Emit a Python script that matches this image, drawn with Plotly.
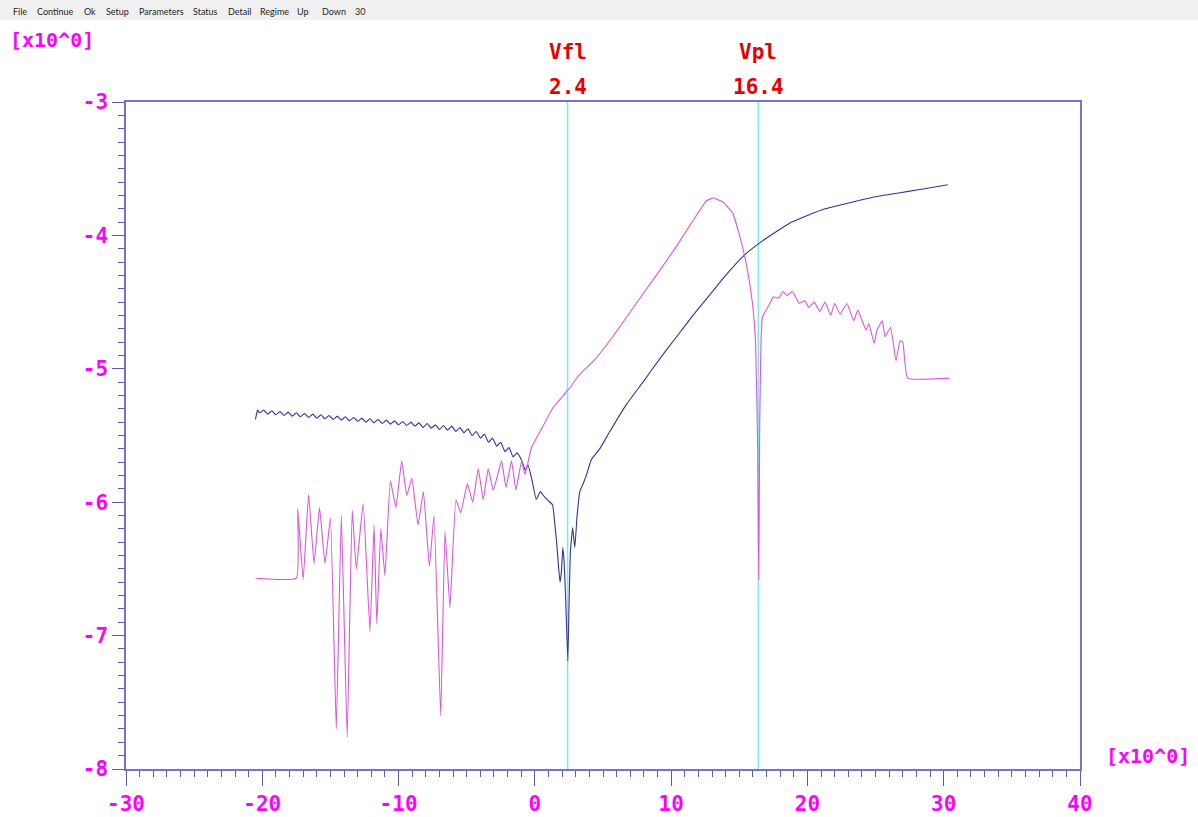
import plotly.graph_objects as go

# ---------------- data ----------------
blue_x = [-20.5, -20.35, -20.2, -19.9, -19.6, -19.3, -19.0, -18.7, -18.4, -18.1, -17.8, -17.5, -17.2,
          -16.9, -16.6, -16.3, -16.0, -15.7, -15.4, -15.1, -14.8, -14.5, -14.2, -13.9, -13.6, -13.3,
          -13.0, -12.7, -12.4, -12.1, -11.8, -11.5, -11.2, -10.9, -10.6, -10.3, -10.0, -9.7, -9.4,
          -9.1, -8.8, -8.5, -8.2, -7.9, -7.6, -7.3, -7.0, -6.7, -6.4, -6.1, -5.8, -5.5, -5.2, -4.9,
          -4.6, -4.3, -4.0, -3.7, -3.4, -3.1, -2.8, -2.5, -2.2, -1.9, -1.6, -1.3, -1.0, -0.7, -0.5,
          -0.2, 0.1, 0.4, 0.7, 1.0, 1.3, 1.5, 1.6, 1.75, 1.85, 1.95, 2.05, 2.15, 2.25, 2.42, 2.5,
          2.6, 2.77, 2.93, 3.1, 3.3, 3.55, 3.8, 4.15, 4.76, 5.5, 6.7, 8.0, 9.2, 10.4, 11.6, 12.8,
          14.0, 15.35, 16.45, 17.9, 18.85, 20.0, 21.3, 22.5, 23.7, 25.0, 26.2, 27.4, 28.6, 30.3]
blue_y = [-5.38, -5.31, -5.33, -5.31, -5.34, -5.315, -5.345, -5.32, -5.35, -5.325, -5.355, -5.33, -5.36,
          -5.335, -5.365, -5.34, -5.37, -5.345, -5.375, -5.35, -5.38, -5.355, -5.385, -5.36, -5.39, -5.365,
          -5.395, -5.37, -5.40, -5.375, -5.405, -5.38, -5.41, -5.385, -5.415, -5.39, -5.42, -5.395, -5.425,
          -5.40, -5.43, -5.405, -5.44, -5.41, -5.445, -5.42, -5.455, -5.425, -5.46, -5.43, -5.47, -5.44,
          -5.48, -5.45, -5.50, -5.47, -5.52, -5.49, -5.55, -5.52, -5.58, -5.55, -5.62, -5.59, -5.66,
          -5.63, -5.68, -5.76, -5.72, -5.84, -5.98, -5.92, -5.96, -5.99, -6.02, -6.20, -6.30, -6.50,
          -6.60, -6.52, -6.34, -6.45, -6.70, -7.19, -6.80, -6.39, -6.19, -6.34, -6.10, -5.92, -5.86,
          -5.79, -5.68, -5.60, -5.47, -5.27, -5.09, -4.92, -4.76, -4.60, -4.45, -4.30, -4.15, -4.06,
          -3.96, -3.90, -3.85, -3.80, -3.77, -3.74, -3.71, -3.69, -3.67, -3.65, -3.62]

mag_x = [-20.5, -17.5, -17.4, -17.0, -16.6, -16.2, -15.8, -15.4, -15.0, -14.57, -14.2, -13.77, -13.4,
         -13.1, -12.6, -12.1, -11.8, -11.6, -11.3, -11.0, -10.6, -10.2, -9.77, -9.4, -9.03, -8.57,
         -8.18, -7.74, -7.40, -6.91, -6.59, -6.23, -5.79, -5.44, -4.95, -4.56, -4.15, -3.79, -3.42,
         -3.05, -2.44, -2.12, -1.71, -1.39, -0.97, -0.73, -0.24, 0.49, 1.34, 2.1, 2.32, 2.6, 3.0,
         3.5, 4.32, 5.5, 6.75, 8.0, 9.18, 10.4, 11.6, 12.6, 13.1, 13.8, 14.5, 15.1, 15.6, 15.98,
         16.2, 16.35, 16.43, 16.5, 16.6, 16.7, 17.2, 17.5, 17.9, 18.2, 18.5, 18.9, 19.4, 19.8, 20.1,
         20.5, 20.9, 21.3, 21.7, 22.0, 22.4, 22.9, 23.4, 23.7, 24.3, 24.5, 24.9, 25.1, 25.5, 25.7,
         26.1, 26.5, 26.8, 27.0, 27.35, 30.4]
mag_y = [-6.57, -6.57, -6.05, -6.58, -5.94, -6.46, -6.04, -6.46, -6.12, -7.70, -6.10, -7.76, -6.06,
         -6.50, -6.01, -6.97, -6.17, -6.91, -6.20, -6.55, -5.84, -6.04, -5.69, -5.95, -5.82, -6.17,
         -5.92, -6.48, -6.10, -7.60, -6.22, -6.79, -5.98, -6.08, -5.86, -6.00, -5.75, -5.98, -5.75,
         -5.91, -5.69, -5.89, -5.69, -5.91, -5.69, -5.79, -5.59, -5.45, -5.29, -5.20, -5.17, -5.14,
         -5.08, -5.02, -4.94, -4.79, -4.61, -4.43, -4.26, -4.08, -3.89, -3.74, -3.72, -3.75, -3.83,
         -4.03, -4.26, -4.52, -4.82, -5.60, -6.58, -5.40, -4.77, -4.61, -4.52, -4.46, -4.47, -4.42,
         -4.45, -4.42, -4.51, -4.49, -4.54, -4.50, -4.57, -4.50, -4.60, -4.51, -4.59, -4.51, -4.64,
         -4.56, -4.71, -4.66, -4.81, -4.71, -4.64, -4.76, -4.69, -4.94, -4.79, -4.80, -5.07, -5.07]

marker_names = ["Vfl", "Vpl"]
marker_values = [2.4, 16.4]

x_tickvals = [-30, -20, -10, 0, 10, 20, 30, 40]
x_ticktext = ["-30", "-20", "-10", "0", "10", "20", "30", "40"]
y_tickvals = [-8, -7, -6, -5, -4, -3]
y_ticktext = ["-8", "-7", "-6", "-5", "-4", "-3"]

menu_items = ["File", "Continue", "Ok", "Setup", "Parameters", "Status", "Detail", "Regime", "Up", "Down", "30"]
menu_px = [11, 35, 82, 104, 137, 191, 226, 258, 295, 320, 353]

scale_label = "[x10^0]"

# ---------------- layout constants ----------------
W, H = 1198, 817
L, R, T, B = 126, 1080, 102, 769
PW, PH = R - L, B - T


def px_x(p):
    return (p - L) / PW


def px_y(p):
    return (B - p) / PH


AXIS_COLOR = "#7474d0"
TICK_COLOR = "#5a5ab0"
LABEL_COLOR = "#ff00ff"
FONT = "DejaVu Sans Mono"

fig = go.Figure()

fig.add_trace(go.Scatter(x=blue_x, y=blue_y, mode="lines",
                         line=dict(color="#32329c", width=1.1, shape="spline", smoothing=0.35),
                         hoverinfo="skip"))
fig.add_trace(go.Scatter(x=mag_x, y=mag_y, mode="lines",
                         line=dict(color="#e052e0", width=1.1, shape="spline", smoothing=0.35),
                         hoverinfo="skip"))

# vertical marker lines and labels
for name, v in zip(marker_names, marker_values):
    fig.add_shape(type="line", xref="x", yref="paper", x0=v, x1=v, y0=0, y1=1,
                  line=dict(color="#80eaea", width=1.6), layer="below")
    fig.add_annotation(x=v, xref="x", y=px_y(52), yref="paper", text=name, showarrow=False,
                       font=dict(family=FONT, size=21, color="#e60000", weight="bold"),
                       xanchor="center", yanchor="middle")
    fig.add_annotation(x=v, xref="x", y=px_y(87), yref="paper", text=f"{v}", showarrow=False,
                       font=dict(family=FONT, size=21, color="#e60000", weight="bold"),
                       xanchor="center", yanchor="middle")

# menu bar
fig.add_shape(type="rect", xref="paper", yref="paper", x0=px_x(0), x1=px_x(W), y0=px_y(20), y1=px_y(0),
              fillcolor="#f0f0f0", line=dict(width=0), layer="below")
for item, p in zip(menu_items, menu_px):
    fig.add_annotation(x=px_x(p), xref="paper", y=px_y(12), yref="paper", text=item, showarrow=False,
                       font=dict(family="Lato", size=9, color="#1e1e1e"),
                       xanchor="left", yanchor="middle")

# scale labels
fig.add_annotation(x=px_x(8), xref="paper", y=px_y(40), yref="paper", text=scale_label, showarrow=False,
                   font=dict(family=FONT, size=20, color=LABEL_COLOR, weight="bold"),
                   xanchor="left", yanchor="middle")
fig.add_annotation(x=px_x(1104), xref="paper", y=px_y(756), yref="paper", text=scale_label, showarrow=False,
                   font=dict(family=FONT, size=20, color=LABEL_COLOR, weight="bold"),
                   xanchor="left", yanchor="middle")

fig.update_layout(
    width=W, height=H, autosize=False,
    margin=dict(l=L, r=W - R, t=T, b=H - B, pad=0, autoexpand=False),
    paper_bgcolor="white", plot_bgcolor="white",
    showlegend=False,
    xaxis=dict(range=[-30, 40], showgrid=False, zeroline=False, automargin=False,
               showline=True, linecolor=AXIS_COLOR, linewidth=1.5, mirror=True,
               ticks="outside", ticklen=15, tickwidth=1.3, tickcolor=TICK_COLOR,
               tickvals=x_tickvals, ticktext=x_ticktext,
               tickfont=dict(family=FONT, size=21, color=LABEL_COLOR, weight="bold"),
               minor=dict(dtick=1, ticks="outside", ticklen=6, tickwidth=1, tickcolor=TICK_COLOR,
                          showgrid=False)),
    yaxis=dict(range=[-8, -3], showgrid=False, zeroline=False, automargin=False,
               showline=True, linecolor=AXIS_COLOR, linewidth=1.5, mirror=True,
               ticks="outside", ticklen=12, tickwidth=1.3, tickcolor=TICK_COLOR,
               tickvals=y_tickvals, ticktext=y_ticktext,
               tickfont=dict(family=FONT, size=21, color=LABEL_COLOR, weight="bold"),
               minor=dict(dtick=0.1, ticks="outside", ticklen=6, tickwidth=1, tickcolor=TICK_COLOR,
                          showgrid=False)),
)

fig.write_html("out.html", config={"displayModeBar": False},
               post_script="document.body.style.margin='0px';")
